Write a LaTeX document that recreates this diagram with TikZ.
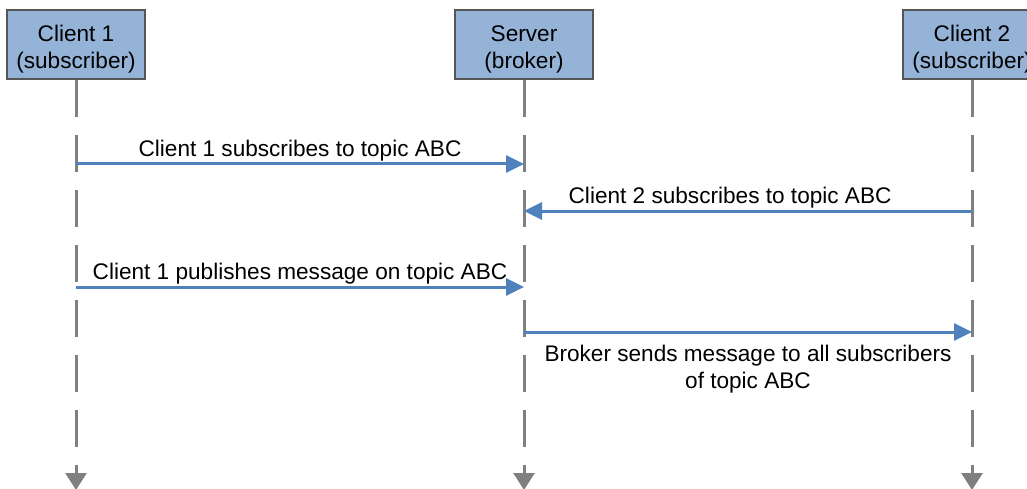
\documentclass[tikz,border=0pt]{standalone}
\usepackage{fontspec}
\setmainfont{Liberation Sans}
\usepackage{xcolor}
\usepackage{tikz}
\usetikzlibrary{arrows.meta,positioning}
\definecolor{boxblue}{HTML}{95B3D7}
\definecolor{boxline}{HTML}{555555}
\definecolor{msgblue}{HTML}{4F81BD}
\definecolor{lifegray}{HTML}{808080}
\tikzstyle{actor} = [rectangle, draw=boxline, fill=boxblue, line width=2pt, minimum width=138pt, minimum height=69pt, text centered, align=center, inner sep=0pt]
\tikzstyle{lifeline} = [draw=lifegray, line width=3pt, dash pattern=on 37pt off 18pt, -{Triangle[length=17pt,width=21pt]}]
\tikzstyle{msg} = [draw=msgblue, line width=3pt, -{Triangle[length=18pt,width=17pt]}]
\newcommand{\toprule}{\rule{0pt}{25pt}}

\begin{document}
\begin{tikzpicture}[x=1pt, y=1pt, font=\fontsize{22.6}{27}\selectfont]
    \useasboundingbox (0,0) rectangle (1027,-489);
    \node [actor] (client1) at (76,-44.5) {\toprule Client 1\\(subscriber)};
    \node [actor, right=308pt of client1] (server) {\toprule Server\\(broker)};
    \node [actor, right=308pt of server] (client2) {\toprule Client 2\\(subscriber)};

    \coordinate [below=410pt of client1.south] (c1end);
    \coordinate [below=410pt of server.south] (srvend);
    \coordinate [below=410pt of client2.south] (c2end);
    \path [lifeline] (client1) -- (c1end);
    \path [lifeline] (server) -- (srvend);
    \path [lifeline] (client2) -- (c2end);

    \coordinate [below=84pt of client1.south] (c1sub);
    \coordinate [below=84pt of server.south] (srvsub1);
    \coordinate [below=131pt of client2.south] (c2sub);
    \coordinate [below=131pt of server.south] (srvsub2);
    \coordinate [below=207pt of client1.south] (c1pub);
    \coordinate [below=207pt of server.south] (srvpub);
    \coordinate [below=252pt of server.south] (srvsend);
    \coordinate [below=252pt of client2.south] (c2recv);

    \path [msg] (c1sub) -- node [above, inner sep=1pt] (lsub1) {Client 1 subscribes to topic ABC} (srvsub1);
    \path [msg] (c2sub) -- node [above, inner sep=1pt, pos=0.54] (lsub2) {Client 2 subscribes to topic ABC} (srvsub2);
    \path [msg] (c1pub) -- node [above, inner sep=1pt] (lpub) {Client 1 publishes message on topic ABC} (srvpub);
    \path [msg] (srvsend) -- node [below, inner sep=12pt, align=center] (lsend) {Broker sends message to all subscribers\\of topic ABC} (c2recv);
\end{tikzpicture}
\end{document}
